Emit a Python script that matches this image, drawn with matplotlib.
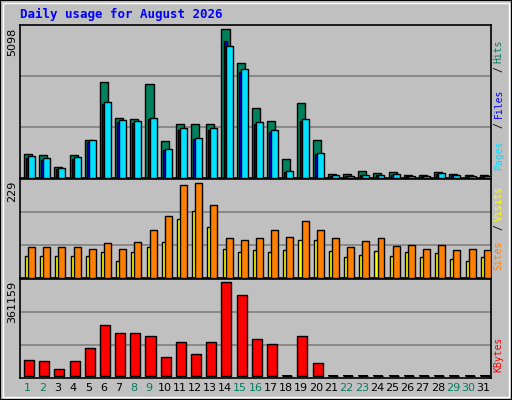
import matplotlib
matplotlib.use("Agg")
import matplotlib.pyplot as plt
import numpy as np

days = list(range(1, 32))
weekend = [1, 2, 8, 9, 15, 16, 22, 23, 29, 30]
hits = [833, 798, 382, 798, 1318, 3296, 2047, 2012, 3227, 1284, 1839, 1839, 1839, 5098, 3955, 2394, 1943, 659, 2567, 1318,
        139, 139, 243, 173, 208, 104, 104, 208, 139, 104, 104]
files = [690, 620, 310, 660, 1240, 2550, 1930, 1890, 2010, 960, 1650, 1340, 1650, 4700, 3650, 1860, 1580, 220, 1960, 830,
         80, 60, 90, 90, 120, 60, 60, 150, 90, 60, 60]
pages = [763, 694, 347, 729, 1318, 2601, 1978, 1943, 2047, 1006, 1700, 1388, 1700, 4543, 3747, 1908, 1631, 243, 2012, 867,
         104, 69, 104, 104, 139, 69, 69, 173, 104, 69, 69]
visits = [75, 75, 75, 75, 70, 85, 70, 87, 117, 149, 224, 229, 177, 97, 92, 97, 115, 100, 137, 117,
          97, 75, 90, 97, 77, 80, 70, 80, 67, 70, 67]
sites = [52, 52, 52, 52, 52, 62, 40, 62, 75, 87, 142, 162, 124, 70, 62, 67, 62, 67, 92, 92,
         65, 50, 55, 65, 52, 62, 50, 60, 47, 40, 50]
kbytes = [59540, 55570, 23810, 55570, 107160, 194460, 162720, 162720, 150810, 71440, 130960, 83340, 130960, 361159, 309560,
          142870, 123030, 0, 150810, 47620, 0, 0, 0, 0, 0, 0, 0, 0, 0, 0, 0]

W, H = 512, 400
fig = plt.figure(figsize=(W / 100, H / 100), dpi=100, facecolor="#c0c0c0")
mono = "DejaVu Sans Mono"

fig.add_artist(plt.Rectangle((0, 0), 1, 1, transform=fig.transFigure, fill=False, ec="black", lw=1.5))
fig.add_artist(plt.Rectangle((3 / W, 3 / H), 1 - 6 / W, 1 - 6 / H, transform=fig.transFigure, fill=False, ec="white", lw=1))
fig.text(20 / W, 1 - 14 / H, "Daily usage for August 2026", color="#0000ff", fontsize=9, family=mono,
         weight="bold", va="center", ha="left")

x = np.arange(len(days))
L, R = 20 / W, 491 / W


def mkax(top, bot):
    ax = fig.add_axes([L, 1 - bot / H, R - L, (bot - top) / H], facecolor="#c0c0c0")
    ax.set_xlim(0, len(days))
    ax.set_xticks([])
    ax.set_yticks([])
    for s in ax.spines.values():
        s.set_color("black")
        s.set_linewidth(1.2)
    for f in (1 / 3, 2 / 3):
        ax.plot([0, 1], [f, f], transform=ax.transAxes, color="#808080", lw=1.2, zorder=0)
    return ax


ek = dict(edgecolor="black", linewidth=1)
ax1 = mkax(25, 178)
ax1.bar(x + 0.26, hits, width=0.53, align="edge", color="#00805c", **ek, zorder=2)
ax1.bar(x + 0.40, files, width=0.25, align="edge", color="#0000ff", **ek, zorder=3)
ax1.bar(x + 0.53, pages, width=0.46, align="edge", color="#00e0ff", **ek, zorder=4)
ax1.set_ylim(0, max(hits) * 1.03)

ax2 = mkax(179, 278)
ax2.bar(x + 0.33, sites, width=0.33, align="edge", color="#ffff00", **ek, zorder=2)
ax2.bar(x + 0.53, visits, width=0.46, align="edge", color="#ff8000", **ek, zorder=3)
ax2.set_ylim(0, max(visits) * 1.045)

ax3 = mkax(279, 378)
ax3.bar(x + 0.26, kbytes, width=0.66, align="edge", color="#ff0000", **ek, zorder=2)
ax3.set_ylim(-max(kbytes) * 0.025, max(kbytes) * 1.03)
for i, v in enumerate(kbytes):
    if v == 0:
        ax3.bar(i + 0.26, max(kbytes) * 0.012, bottom=0, width=0.66, align="edge", color="black", lw=0, zorder=2)

for ax, lab in ((ax1, "5098"), (ax2, "229"), (ax3, "361159")):
    ax.text(-0.006, 0.985, lab, transform=ax.transAxes, rotation=90, rotation_mode="anchor",
            ha="right", va="bottom", fontsize=8, family="DejaVu Sans")

for i, d in enumerate(days):
    ax3.text(i + 0.5, -0.05, str(d), transform=ax3.get_xaxis_transform(), ha="center", va="top",
             fontsize=8, color="#00805c" if d in weekend else "black")


def rt(ax, y, s, c):
    ax.text(1.006, y, s, transform=ax.transAxes, rotation=90, rotation_mode="anchor",
            ha="left", va="top", fontsize=7, family=mono, color=c)


rt(ax1, 0.05, "Pages", "#00e0ff")
rt(ax1, 0.33, "/", "black")
rt(ax1, 0.39, "Files", "#0000ff")
rt(ax1, 0.69, "/", "black")
rt(ax1, 0.75, "Hits", "#00805c")

rt(ax2, 0.08, "Sites", "#ff8000")
rt(ax2, 0.48, "/", "black")
rt(ax2, 0.58, "Visits", "#ffff00")

rt(ax3, 0.06, "KBytes", "#ff0000")

fig.savefig("out.png", dpi=100, facecolor=fig.get_facecolor())
